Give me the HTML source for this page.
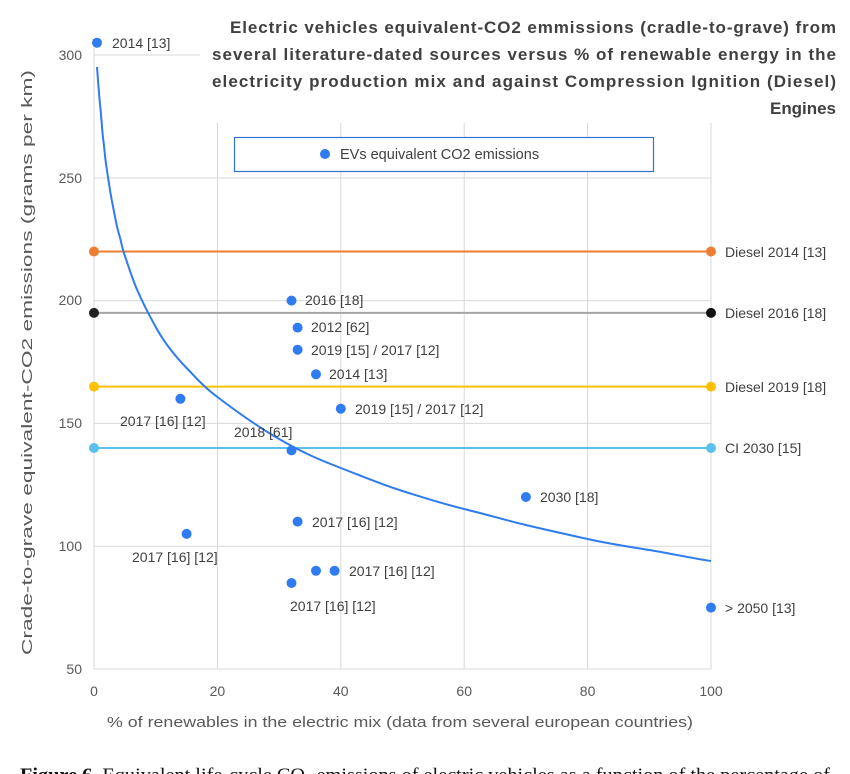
<!DOCTYPE html>
<html><head><meta charset="utf-8"><style>
html,body{margin:0;padding:0;background:#fff;width:850px;height:774px;overflow:hidden}
svg text{font-family:"Liberation Sans",sans-serif}
</style></head><body>
<svg width="850" height="774" viewBox="0 0 850 774" xmlns="http://www.w3.org/2000/svg">
<g stroke="#d9d9d9" stroke-width="1">
<line x1="94" y1="55" x2="200" y2="55"/>
<line x1="94" y1="178" x2="711" y2="178"/>
<line x1="94" y1="300.6" x2="711" y2="300.6"/>
<line x1="94" y1="423.4" x2="711" y2="423.4"/>
<line x1="94" y1="546.2" x2="711" y2="546.2"/>
<line x1="94" y1="669" x2="711" y2="669"/>
<line x1="94" y1="45" x2="94" y2="669"/>
<line x1="217.4" y1="123" x2="217.4" y2="669"/>
<line x1="340.8" y1="123" x2="340.8" y2="669"/>
<line x1="464.2" y1="123" x2="464.2" y2="669"/>
<line x1="587.6" y1="123" x2="587.6" y2="669"/>
<line x1="711" y1="123" x2="711" y2="669"/>
</g>
<g font-size="14" fill="#595959" text-anchor="end">
<text x="82" y="60">300</text><text x="82" y="183">250</text><text x="82" y="305">200</text>
<text x="82" y="428">150</text><text x="82" y="551">100</text><text x="82" y="674">50</text>
</g>
<g font-size="14" fill="#595959" text-anchor="middle">
<text x="94" y="696">0</text><text x="217.4" y="696">20</text><text x="340.8" y="696">40</text>
<text x="464.2" y="696">60</text><text x="587.6" y="696">80</text><text x="711" y="696">100</text>
</g>
<text x="107" y="727" font-size="15" fill="#595959" textLength="586" lengthAdjust="spacingAndGlyphs">% of renewables in the electric mix (data from several european countries)</text>
<text transform="translate(32,655) rotate(-90)" font-size="15" fill="#595959" textLength="585" lengthAdjust="spacingAndGlyphs">Crade-to-grave equivalent-CO2 emissions (grams per  km)</text>
<g font-size="17" font-weight="bold" fill="#404040" lengthAdjust="spacingAndGlyphs">
<text x="230" y="33" textLength="606">Electric vehicles equivalent-CO2 emmissions (cradle-to-grave) from</text>
<text x="212" y="60" textLength="624">several literature-dated sources versus % of renewable energy in the</text>
<text x="212" y="87" textLength="624">electricity production mix and against Compression Ignition (Diesel)</text>
<text x="770" y="114" textLength="66">Engines</text>
</g>
<rect x="234.5" y="137.5" width="419" height="34" fill="#fff" stroke="#2e75d6" stroke-width="1.2"/>
<circle cx="325" cy="154" r="5" fill="#2f7bf0"/>
<text x="340" y="159" font-size="14.5" fill="#404040">EVs equivalent CO2 emissions</text>
<line x1="94" y1="251.5" x2="711" y2="251.5" stroke="#ed7d31" stroke-width="2"/>
<line x1="94" y1="312.9" x2="711" y2="312.9" stroke="#a5a5a5" stroke-width="2"/>
<line x1="94" y1="386.6" x2="711" y2="386.6" stroke="#ffc000" stroke-width="2"/>
<line x1="94" y1="448" x2="711" y2="448" stroke="#5bc0eb" stroke-width="2"/>
<circle cx="94" cy="251.5" r="5" fill="#ed7d31"/><circle cx="711" cy="251.5" r="5" fill="#ed7d31"/>
<circle cx="94" cy="312.9" r="5" fill="#222"/><circle cx="711" cy="312.9" r="5" fill="#111"/>
<circle cx="94" cy="386.6" r="5" fill="#ffc000"/><circle cx="711" cy="386.6" r="5" fill="#ffc000"/>
<circle cx="94" cy="448" r="5" fill="#5bc0eb"/><circle cx="711" cy="448" r="5" fill="#5bc0eb"/>
<path fill="none" stroke="#2f7bf0" stroke-width="2" d="M97,67 C98,80 99,95 100.2,106 S102,130 103.3,140 S105,158 106.3,166 S110,192 112.5,204 S116,224 118.7,233 S122,248 124.9,256 S132,278 137.2,290 S148,313 155.7,327 S174,355 186.6,368 S203,386 217.4,397 S255,425 279.1,439 S320,460 340.8,468 S380,484 402.5,491 S440,503 464.2,509 S505,520 525.9,525 S565,534 587.6,539 S630,547 649.3,550 S690,558 711,561"/>
<g fill="#2f7bf0">
<circle cx="97" cy="42.7" r="5"/><circle cx="291.5" cy="300.6" r="5"/><circle cx="297.6" cy="327.6" r="5"/>
<circle cx="297.6" cy="349.7" r="5"/><circle cx="316" cy="374.3" r="5"/><circle cx="180.4" cy="398.8" r="5"/>
<circle cx="340.8" cy="408.7" r="5"/><circle cx="291.5" cy="450.4" r="5"/><circle cx="525.9" cy="497" r="5"/>
<circle cx="297.6" cy="521.6" r="5"/><circle cx="186.6" cy="533.9" r="5"/><circle cx="316" cy="570.8" r="5"/>
<circle cx="334.6" cy="570.8" r="5"/><circle cx="291.5" cy="583" r="5"/><circle cx="711" cy="607.6" r="5"/>
</g>
<g font-size="14" fill="#404040">
<text x="112" y="48">2014 [13]</text>
<text x="305" y="305">2016 [18]</text>
<text x="311" y="332">2012 [62]</text>
<text x="311" y="355">2019  [15] / 2017  [12]</text>
<text x="329" y="379">2014 [13]</text>
<text x="120" y="426">2017 [16] [12]</text>
<text x="355" y="414">2019  [15] / 2017  [12]</text>
<text x="234" y="437">2018 [61]</text>
<text x="540" y="502">2030 [18]</text>
<text x="312" y="527">2017 [16] [12]</text>
<text x="132" y="562">2017 [16] [12]</text>
<text x="349" y="576">2017 [16] [12]</text>
<text x="290" y="611">2017 [16] [12]</text>
<text x="725" y="613">&gt; 2050  [13]</text>
<text x="725" y="257">Diesel 2014 [13]</text>
<text x="725" y="318">Diesel 2016 [18]</text>
<text x="725" y="392">Diesel 2019 [18]</text>
<text x="725" y="453">CI 2030 [15]</text>
</g>
<text x="20" y="781" font-size="19" fill="#111" style="font-family:'Liberation Serif',serif" textLength="810" lengthAdjust="spacingAndGlyphs"><tspan font-weight="bold">Figure 6.</tspan> Equivalent life-cycle CO<tspan font-size="12" dy="4">2</tspan><tspan dy="-4"> emissions of electric vehicles as a function of the percentage of</tspan></text>
</svg>
</body></html>
